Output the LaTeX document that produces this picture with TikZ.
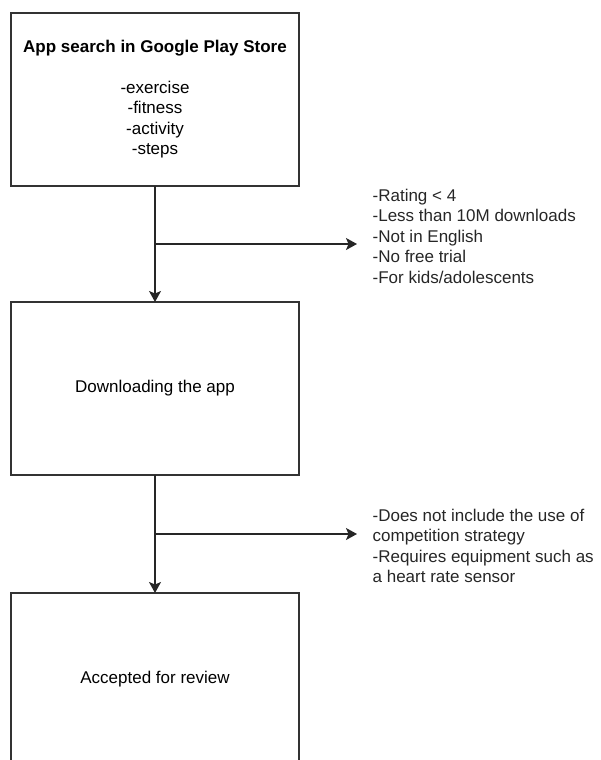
\documentclass[tikz,border=0pt]{standalone}
\usepackage{fontspec}
\setmainfont{Liberation Sans}
\usetikzlibrary{arrows.meta,positioning}

\begin{document}
\begin{tikzpicture}[x=1pt,y=1pt,->,>={Stealth[length=11pt,width=12pt,inset=2.5pt]},
		line width=1.3pt,draw=black!85,
		font=\fontsize{17}{20.5}\selectfont,
		stage/.style={rectangle,draw=black!80,line width=1.4pt,minimum width=288pt,
			minimum height=173pt,align=center,inner sep=0pt,outer sep=0pt},
		note/.style={anchor=west,align=left,inner sep=0pt,text=black!85}]
	\useasboundingbox (0,0) rectangle (601,-760);
	\clip (0,0) rectangle (601,-760);

	\node[stage] (search) at (155,-99.5) {\textbf{App search in Google Play Store}\\[20pt]
		-exercise\\-fitness\\-activity\\-steps};
	\node[stage] (download) [below=116pt of search] {Downloading the app};
	\node[stage] (accept) [below=118pt of download] {Accepted for review};

	\node[note] (exclude1) at (372,-236) {-Rating < 4\\-Less than 10M downloads\\-Not in English\\-No free trial\\-For kids/adolescents};
	\node[note] (exclude2) at (372,-546) {-Does not include the use of\\competition strategy\\-Requires equipment such as\\a heart rate sensor};

	\path[-] (search.south) -- (download.north) coordinate[pos=0.5] (split1);
	\path[-] (download.south) -- (accept.north) coordinate[pos=0.5] (split2);

	\path (search) edge (download);
	\path (download) edge (accept);
	\path (split1) edge[shorten >=15pt] (split1 -| exclude1.west);
	\path (split2) edge[shorten >=15pt] (split2 -| exclude2.west);
\end{tikzpicture}
\end{document}
